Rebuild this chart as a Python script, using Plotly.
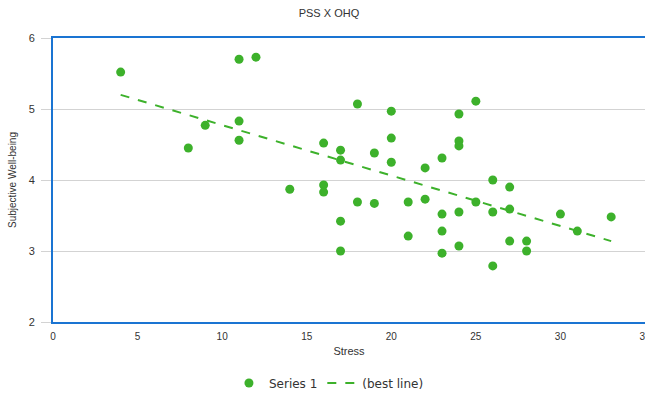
import numpy as np
import plotly.graph_objects as go

# Perceived stress (PSS) scores vs. subjective well-being (OHQ)
stress = [4, 8, 9, 11, 11, 11, 12, 14, 16, 16, 16, 17, 17, 17, 17, 18, 18, 19, 19,
          20, 20, 20, 21, 21, 22, 22, 23, 23, 23, 23, 24, 24, 24, 24, 24, 25, 25,
          26, 26, 26, 27, 27, 27, 28, 28, 30, 31, 33]
wellbeing = [5.52, 4.45, 4.77, 5.70, 4.83, 4.56, 5.73, 3.87, 4.52, 3.93, 3.83, 4.42,
             4.28, 3.42, 3.00, 5.07, 3.69, 4.38, 3.67, 4.97, 4.59, 4.25, 3.69, 3.21,
             4.17, 3.73, 4.31, 3.52, 3.28, 2.97, 4.93, 4.55, 4.48, 3.55, 3.07, 5.11,
             3.69, 4.00, 3.55, 2.79, 3.90, 3.59, 3.14, 3.14, 3.00, 3.52, 3.28, 3.48]

x_ticks = [0, 5, 10, 15, 20, 25, 30, 35]
y_ticks = [2, 3, 4, 5, 6]

GREEN = "#3db12b"
BLUE = "#1a74d2"
TEXT = "#333333"

# least-squares trend line across the observed stress range
slope, intercept = np.polyfit(stress, wellbeing, 1)
fit_x = [min(stress), max(stress)]
fit_y = [intercept + slope * v for v in fit_x]

fig = go.Figure()
fig.add_trace(go.Scatter(
    x=stress, y=wellbeing, mode="markers", name="Series 1",
    marker=dict(color=GREEN, size=9, line=dict(width=0)),
))
fig.add_trace(go.Scatter(
    x=fit_x, y=fit_y, mode="lines", name="(best line)",
    line=dict(color=GREEN, width=2, dash="dash"),
))

fig.update_layout(
    width=645, height=397,
    margin=dict(l=53, r=0, t=38, b=75),
    paper_bgcolor="white", plot_bgcolor="white",
    font=dict(family="Liberation Sans, Arial, sans-serif", size=11, color=TEXT),
    title=dict(text="PSS X OHQ", x=0.51, xanchor="center", xref="container",
               y=1 - 13 / 397, yref="container", yanchor="middle",
               font=dict(size=11, color=TEXT)),
    showlegend=True,
    legend=dict(orientation="h", xref="container", x=0.51, xanchor="center",
                yref="container", y=1 - 383 / 397, yanchor="middle",
                font=dict(family="DejaVu Sans, sans-serif", size=12, color=TEXT),
                itemwidth=30),
)
fig.update_xaxes(
    range=[0, 35], tickvals=x_ticks, showgrid=False, zeroline=False,
    showline=True, linecolor=BLUE, linewidth=2, mirror=True,
    ticks="outside", ticklen=4, tickcolor="white", ticklabeloverflow="allow",
    automargin=False,
    tickfont=dict(size=10, color=TEXT),
    title=dict(text="Stress", standoff=6, font=dict(size=11, color=TEXT)),
)
fig.update_yaxes(
    range=[2, 6], tickvals=y_ticks, showgrid=True, gridcolor="#d3d3d3", gridwidth=1,
    zeroline=False, showline=True, linecolor=BLUE, linewidth=2, mirror=False,
    ticks="outside", ticklen=10, tickcolor="#d3d3d3", ticklabelstandoff=4,
    automargin=False,
    tickfont=dict(size=11, color=TEXT),
    title=dict(text="Subjective Well-being", standoff=10, font=dict(size=10, color=TEXT)),
)

fig.write_html("out.html")
